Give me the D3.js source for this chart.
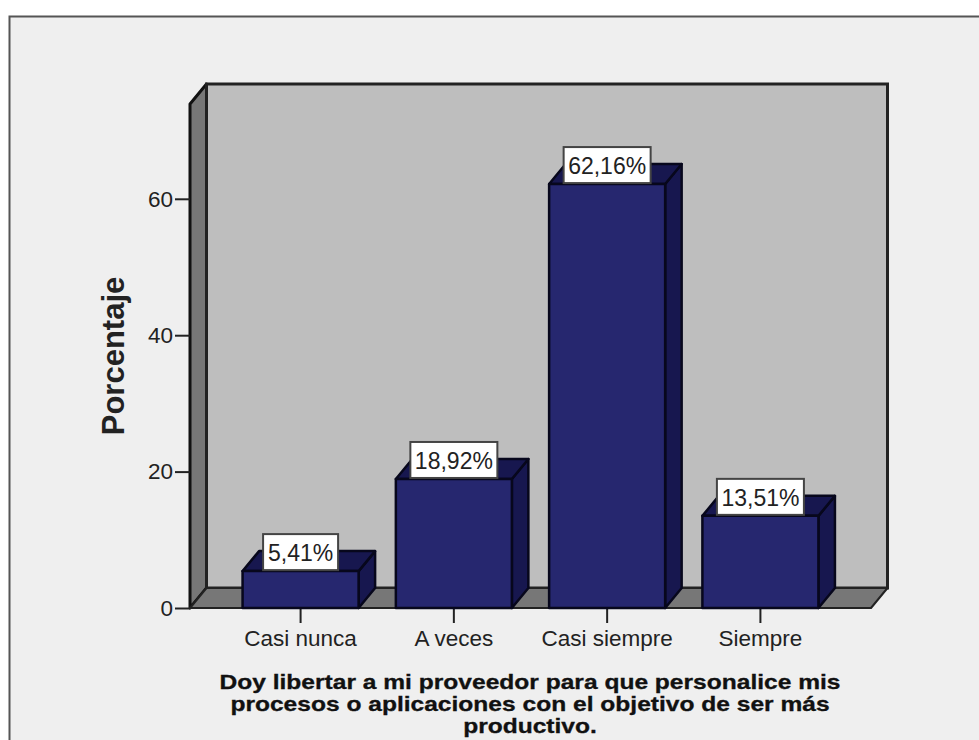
<!DOCTYPE html>
<html lang="es">
<head>
<meta charset="UTF-8">
<script src="https://cdn.jsdelivr.net/npm/d3@7"></script>
<style>
  html, body { margin: 0; padding: 0; background: #fff; }
  svg { display: block; }
  text { font-family: "Liberation Sans", Arial, sans-serif; fill: #222; }
</style>
</head>
<body>
<div id="container"></div>
<script>
const categories = ["Casi nunca", "A veces", "Casi siempre", "Siempre"];
const values = [5.41, 18.92, 62.16, 13.51];
const valueLabels = ["5,41%", "18,92%", "62,16%", "13,51%"];
const yTicks = [0, 20, 40, 60];
const yTitle = "Porcentaje";
const xTitleLines = [
  "Doy libertar a mi proveedor para que personalice mis",
  "procesos o aplicaciones con el objetivo de ser más",
  "productivo."
];

const width = 979, height = 740;
const plotLeft = 190, plotRight = 871, plotBottom = 608, plotTop = 104;
// offset of the back plane of the 3D box
const dx = 16.5, dy = -20;

const x = d3.scaleBand().domain(categories).range([plotLeft, plotRight])
    .paddingInner(0.243).paddingOuter(0.343);
const y = d3.scaleLinear().domain([0, 73.9]).range([plotBottom, plotTop]);

const svg = d3.select("#container").append("svg")
    .attr("width", width).attr("height", height);

// panel
svg.append("rect").attr("x", 9.5).attr("y", 16.5)
    .attr("width", width + 20).attr("height", height + 20)
    .attr("fill", "#efefef").attr("stroke", "#555").attr("stroke-width", 2);

const poly = (pts) => pts.map(p => p.join(",")).join(" ");

// side wall, back wall, floor
svg.append("polygon")
    .attr("points", poly([[plotLeft, plotBottom], [plotLeft, plotTop], [plotLeft + dx, plotTop + dy], [plotLeft + dx, plotBottom + dy]]))
    .attr("fill", "#777").attr("stroke", "#111").attr("stroke-width", 3).attr("stroke-linejoin", "round");
svg.append("rect")
    .attr("x", plotLeft + dx).attr("y", plotTop + dy)
    .attr("width", plotRight - plotLeft).attr("height", plotBottom - plotTop)
    .attr("fill", "#bebebe").attr("stroke", "#222").attr("stroke-width", 3);
svg.append("polygon")
    .attr("points", poly([[plotLeft, plotBottom], [plotRight, plotBottom], [plotRight + dx, plotBottom + dy], [plotLeft + dx, plotBottom + dy]]))
    .attr("fill", "#777").attr("stroke", "#222").attr("stroke-width", 2).attr("stroke-linejoin", "round");

// axes
const yAxis = svg.append("g").attr("transform", `translate(${plotLeft},0)`)
    .call(d3.axisLeft(y).tickValues(yTicks).tickSize(15).tickPadding(2));
const xAxis = svg.append("g").attr("transform", `translate(0,${plotBottom})`)
    .call(d3.axisBottom(x).tickSize(15).tickPadding(7));
yAxis.select(".domain").remove();
xAxis.select(".domain").remove();
[yAxis, xAxis].forEach(g => {
  g.selectAll("line").attr("stroke", "#222").attr("stroke-width", 2);
  g.selectAll("text").style("font-size", "22.5px").style("font-family", '"Liberation Sans"').attr("fill", "#333");
});

// bars
const bars = svg.append("g").selectAll("g")
    .data(categories.map((c, i) => ({ c, v: values[i], label: valueLabels[i] })))
    .join("g")
    .attr("stroke", "#07071c").attr("stroke-width", 2.5).attr("stroke-linejoin", "round");

bars.append("polygon") // right side
    .attr("fill", "#17174f")
    .attr("points", d => {
      const x1 = x(d.c) + x.bandwidth(), yt = y(d.v);
      return poly([[x1, plotBottom], [x1, yt], [x1 + dx, yt + dy], [x1 + dx, plotBottom + dy]]);
    });
bars.append("polygon") // top
    .attr("fill", "#17174f")
    .attr("points", d => {
      const x0 = x(d.c), x1 = x0 + x.bandwidth(), yt = y(d.v);
      return poly([[x0, yt], [x1, yt], [x1 + dx, yt + dy], [x0 + dx, yt + dy]]);
    });
bars.append("rect") // front
    .attr("fill", "#26276f")
    .attr("x", d => x(d.c)).attr("width", x.bandwidth())
    .attr("y", d => y(d.v)).attr("height", d => plotBottom - y(d.v));

// value labels sit on the top front edge
const labels = svg.append("g").selectAll("g")
    .data(values.map((v, i) => ({ c: categories[i], v, label: valueLabels[i] })))
    .join("g")
    .attr("transform", d => `translate(${x(d.c) + x.bandwidth() / 2},${y(d.v)})`);
labels.append("rect")
    .attr("x", d => d.label.length > 5 ? -43.5 : -37.5)
    .attr("width", d => d.label.length > 5 ? 87 : 75)
    .attr("y", -37).attr("height", 36)
    .attr("fill", "#fff").attr("stroke", "#444").attr("stroke-width", 2);
labels.append("text")
    .attr("text-anchor", "middle").attr("y", -10)
    .style("font-size", "23px")
    .text(d => d.label);

// axis titles
svg.append("text")
    .attr("transform", "translate(124,356) rotate(-90)")
    .attr("text-anchor", "middle")
    .style("font-size", "31px").style("font-weight", "bold").attr("fill", "#111")
    .text(yTitle);
// the x title is set wide and tight, hence the horizontal stretch
svg.append("g")
    .attr("transform", "translate(530,0) scale(1.26,1)")
    .selectAll("text")
    .data(xTitleLines)
    .join("text")
    .attr("y", (d, i) => 689 + i * 22)
    .attr("text-anchor", "middle")
    .style("font-size", "19.5px").style("font-weight", "bold")
    .style("fill", "#111").style("stroke", "#111").style("stroke-width", 0.3)
    .text(d => d);
</script>
</body>
</html>
